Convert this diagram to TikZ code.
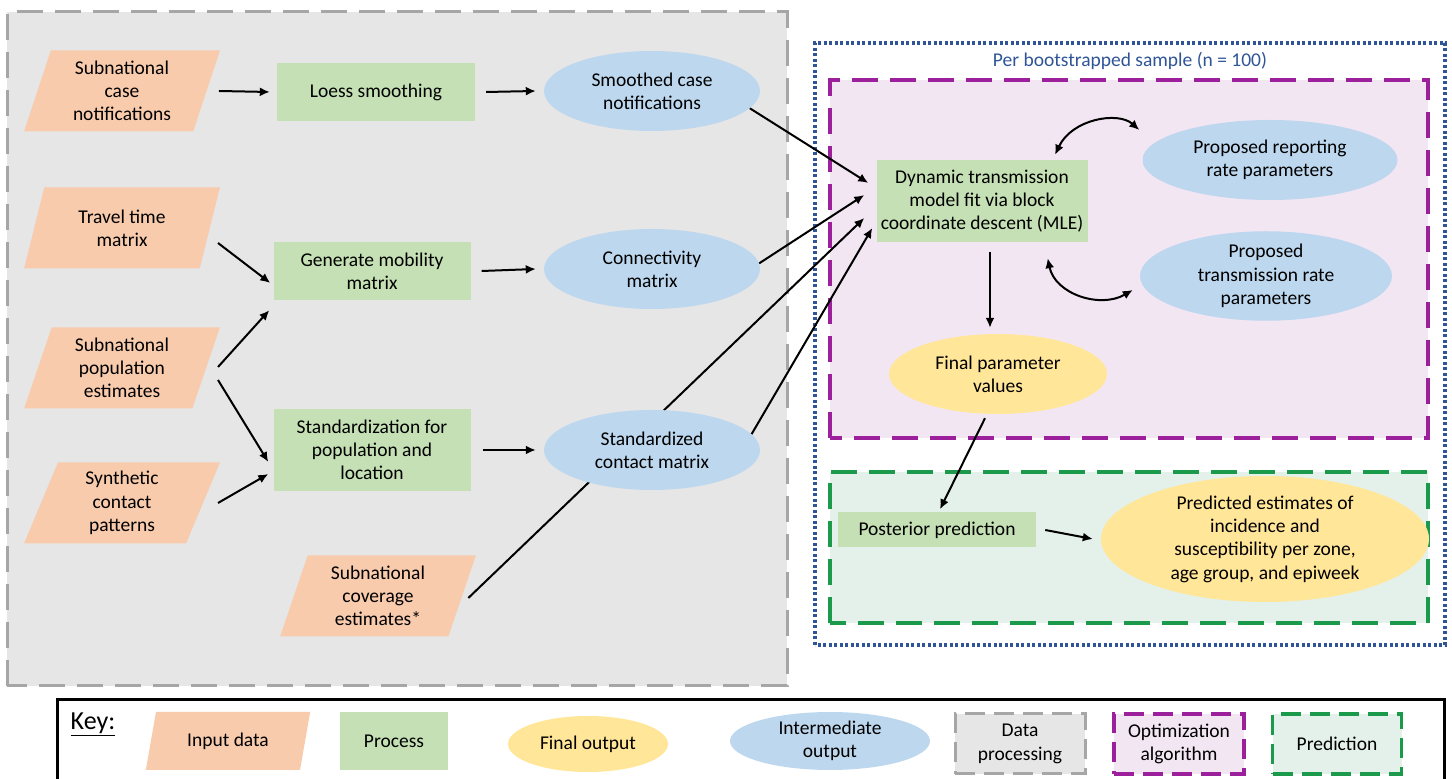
\documentclass[tikz,border=0pt]{standalone}
\usepackage{fontspec}
\setmainfont{Carlito}
\usetikzlibrary{shapes.geometric,arrows.meta,calc}
\definecolor{cin}{HTML}{F8CBAD}
\definecolor{cproc}{HTML}{C5E0B4}
\definecolor{cint}{HTML}{BDD7EE}
\definecolor{cfin}{HTML}{FFE699}
\definecolor{cgraybg}{HTML}{E6E6E6}
\definecolor{cgrayln}{HTML}{A6A6A6}
\definecolor{cpurln}{HTML}{9C1F9C}
\definecolor{cpurbg}{HTML}{F3E6F3}
\definecolor{cgrnln}{HTML}{1A9A4A}
\definecolor{cgrnbg}{HTML}{E4F1EA}
\definecolor{cblue}{HTML}{2F5597}
\pgfdeclarelayer{bg}\pgfdeclarelayer{edges}\pgfsetlayers{bg,edges,main}
\begin{document}
\begin{tikzpicture}[x=1pt,y=1pt,
  font=\fontsize{19.5}{23.3}\selectfont,
  inp/.style={trapezium, trapezium left angle=73, trapezium right angle=107,
    trapezium stretches=true, fill=cin, minimum width=196pt, minimum height=81pt,
    inner sep=0pt, align=center},
  proc/.style={rectangle, fill=cproc, inner sep=0pt, align=center},
  inter/.style={ellipse, fill=cint, inner sep=0pt, align=center},
  fin/.style={ellipse, fill=cfin, inner sep=0pt, align=center},
  arr/.style={line width=2pt, -{Latex[length=10pt,width=9pt]}},
  darr/.style={line width=2pt, {Latex[length=10pt,width=9pt]}-{Latex[length=10pt,width=9pt]}},
  grayframe/.style={draw=cgrayln, fill=cgraybg, line width=3pt, dash pattern=on 26pt off 12pt},
  purframe/.style={draw=cpurln, fill=cpurbg, line width=4pt, dash pattern=on 26pt off 12pt},
  grnframe/.style={draw=cgrnln, fill=cgrnbg, line width=4pt, dash pattern=on 26pt off 12pt},
  blueframe/.style={draw=cblue, line width=3.5pt, dash pattern=on 3pt off 2.5pt},
  keybox/.style={minimum width=130pt, minimum height=60pt, align=center, inner sep=0pt},
]
\useasboundingbox (0,0) rectangle (1452,779);

\begin{pgfonlayer}{bg}
\path[grayframe] (7,93) rectangle (787,767);
\path[blueframe] (815,134) rectangle (1445,736);
\path[purframe] (830,341) rectangle (1428,699);
\path[grnframe] (830,156) rectangle (1428,307);
\end{pgfonlayer}

% inputs
\node[inp] (case) at (122,688) {Subnational\\case\\notifications};
\node[inp] (travel) at (122,551) {Travel time\\matrix};
\node[inp] (pop) at (122,411) {Subnational\\population\\estimates};
\node[inp] (synth) at (122,276) {Synthetic\\contact\\patterns};
\node[inp] (cov) at (378,183) {Subnational\\coverage\\estimates*};
% processes
\node[proc, minimum width=198pt, minimum height=58pt] (loess) at (376,687) {Loess smoothing};
\node[proc, minimum width=197pt, minimum height=58pt] (gen) at (372,508) {Generate mobility\\matrix};
\node[proc, minimum width=197pt, minimum height=82pt] (std) at (372,329) {Standardization for\\population and\\location};
% intermediates
\node[inter, minimum width=216pt, minimum height=80pt] (smooth) at (652,688) {Smoothed case\\notifications};
\node[inter, minimum width=216pt, minimum height=80pt] (conn) at (652,510) {Connectivity\\matrix};
\node[inter, minimum width=216pt, minimum height=80pt] (stdc) at (652,329) {Standardized\\contact matrix};
% right part
\node[text=cblue] (title) at (1130,718) {Per bootstrapped sample (n = 100)};
\node[proc, minimum width=211pt, minimum height=82pt] (dyn) at (982,578) {Dynamic transmission\\model fit via block\\coordinate descent (MLE)};
\node[inter, minimum width=255pt, minimum height=80pt] (rep) at (1270,619) {Proposed reporting\\rate parameters};
\node[inter, minimum width=252pt, minimum height=84pt] (trans) at (1266,503) {Proposed\\transmission rate\\parameters};
\node[fin, minimum width=218pt, minimum height=80pt] (final) at (998,405) {Final parameter\\values};
\node[proc, minimum width=198pt, minimum height=35pt] (post) at (937,249) {Posterior prediction};
\node[fin, minimum width=328pt, minimum height=126pt] (pred) at (1265,240) {Predicted estimates of\\incidence and\\susceptibility per zone,\\age group, and epiweek};

% key
\draw[line width=3pt] (57,79) rectangle (1444,-20);
\node[font=\fontsize{26}{30}\selectfont] (key) at (93,55) {\underline{Key:}};
\node[inp, minimum width=165pt, minimum height=58pt, trapezium left angle=71, trapezium right angle=109] (kin) at (228,38) {Input data};
\node[proc, minimum width=108pt, minimum height=58pt] (kproc) at (394,38) {Process};
\node[fin, minimum width=160pt, minimum height=56pt] (kfin) at (588,35) {Final output};
\node[inter, minimum width=200pt, minimum height=58pt] (kint) at (830,38) {Intermediate\\output};
\node[keybox, draw=cgrayln, fill=cgraybg, line width=3pt, dash pattern=on 20pt off 9pt] (kdp) at (1020,35) {Data\\processing};
\node[keybox, draw=cpurln, fill=cpurbg, line width=3.5pt, dash pattern=on 20pt off 9pt] (kopt) at (1179,35) {Optimization\\algorithm};
\node[keybox, minimum width=129pt, draw=cgrnln, fill=cgrnbg, line width=3.5pt, dash pattern=on 20pt off 9pt] (kpred) at (1337,35) {Prediction};

\begin{pgfonlayer}{edges}
\draw[arr] ($(case.east)+(12,0)$) -- ($(loess.west)+(-7,0)$);
\draw[arr] ($(loess.east)+(11,0)$) -- ($(smooth.west)+(-8,0)$);
\draw[arr] ($(travel.center)+(96,-15)$) -- ($(gen.west)+(-3,-12)$);
\draw[arr] ($(pop.center)+(96,1)$) -- ($(gen.south west)+(-4,-10)$);
\draw[arr] ($(pop.center)+(96,-12)$) -- ($(std.west)+(-5,-12)$);
\draw[arr] ($(synth.center)+(96,0)$) -- ($(std.west)+(-5,-24)$);
\draw[arr] ($(gen.east)+(11,0)$) -- ($(conn.west)+(-8,0)$);
\draw[arr] ($(std.east)+(12,0)$) -- ($(stdc.west)+(-8,0)$);
\draw[arr] (smooth.-10) -- ($(dyn.west)+(-8,18)$);
\draw[arr] (conn.3) -- ($(dyn.west)+(-12,6)$);
\draw[arr] ($(cov.east)+(6,-2)$) -- ($(dyn.west)+(-12,-17)$);
\draw[arr] (stdc.9) -- ($(dyn.west)+(-4,-27)$);
\draw[arr] ($(dyn.south)+(8,-10)$) -- ($(final.north)+(-8,6)$);
\draw[arr] ($(final.south)+(-13,-4)$) -- ($(post.north)+(3,3)$);
\draw[arr] ($(post.east)+(9,0)$) -- ($(pred.west)+(-8,0)$);
\draw[darr] ($(dyn.north)+(73,5)$) .. controls (1072,660) and (1118,668) .. ($(rep.west)+(-3,30)$);
\draw[darr] ($(dyn.south east)+(-40,-16)$) .. controls (1055,485) and (1100,470) .. ($(trans.west)+(-7,-14)$);
\end{pgfonlayer}
\end{tikzpicture}
\end{document}
